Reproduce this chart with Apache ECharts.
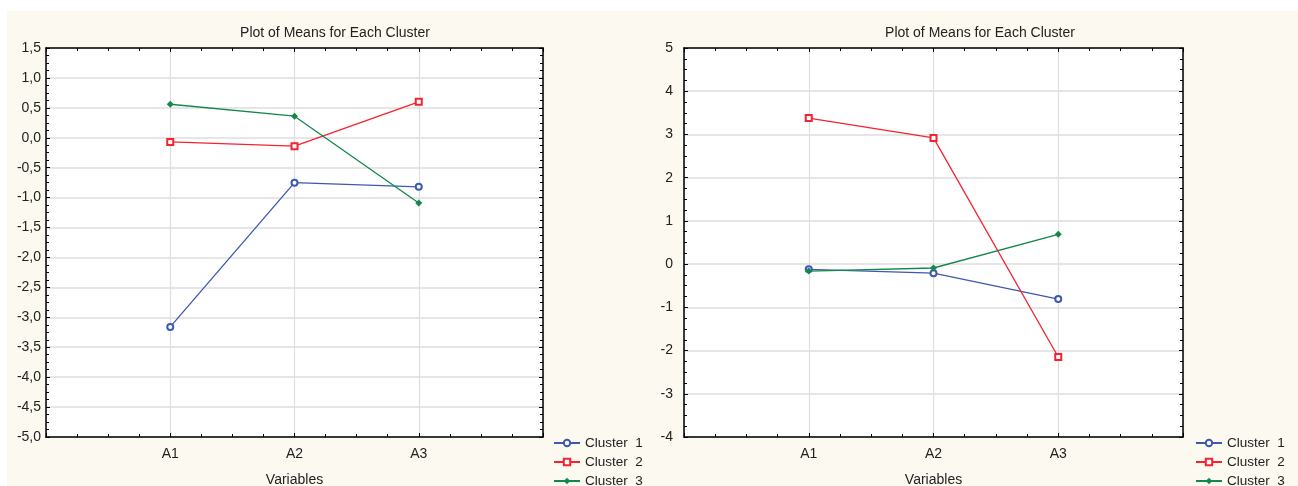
<!DOCTYPE html>
<html><head><meta charset="utf-8">
<script src="https://cdn.jsdelivr.net/npm/echarts@6/dist/echarts.min.js"></script>
<style>html,body{margin:0;padding:0;background:#fff}#c{width:1298px;height:486px}</style>
</head><body><div id="c"></div>
<script>
const categories = ['A1', 'A2', 'A3'];
const seriesNames = ['Cluster  1', 'Cluster  2', 'Cluster  3'];
const leftCluster1 = [-3.16, -0.75, -0.82];
const leftCluster2 = [-0.07, -0.14, 0.60];
const leftCluster3 = [0.56, 0.36, -1.09];
const rightCluster1 = [-0.12, -0.21, -0.81];
const rightCluster2 = [3.38, 2.92, -2.15];
const rightCluster3 = [-0.16, -0.09, 0.69];
const leftYTicks = { min: -5, max: 1.5, interval: 0.5 };
const rightYTicks = { min: -4, max: 5, interval: 1 };

const colors = ['#3d58b3', '#f5232f', '#13884a'];
const symbols = ['emptyCircle', 'emptyRect', 'diamond'];
const font = 'Liberation Sans, Arial, sans-serif';

const grids = [
  { left: 46, top: 48, width: 497, height: 389 },
  { left: 684, top: 48, width: 499, height: 389 }
];

function toPairs(arr) { return arr.map((v, i) => [i + 1, v]); }

const xAxes = [], yAxes = [], series = [], legends = [], titles = [];
[[leftYTicks, [leftCluster1, leftCluster2, leftCluster3], 1, 330, 553, 5],
 [rightYTicks, [rightCluster1, rightCluster2, rightCluster3], 0, 975, 1195, 11]].forEach((cfg, g) => {
  const [yt, data, dec, tx, lx, ym] = cfg;
  const baseX = xAxes.length, baseY = yAxes.length;
  const line = { onZero: false, lineStyle: { color: '#000', width: 1.5 } };
  const tick = { show: true, inside: true, length: 4, lineStyle: { color: '#000' } };
  xAxes.push({
    type: 'value', gridIndex: g, position: 'bottom', min: 0, max: categories.length + 1, interval: 1,
    name: 'Variables', nameLocation: 'middle', nameGap: 36,
    nameTextStyle: { fontFamily: font, fontSize: 14, color: '#222' },
    axisLine: line, axisTick: tick,
    minorTick: { show: true, splitNumber: 4, length: 3, lineStyle: { color: '#000' } },
    axisLabel: { fontFamily: font, fontSize: 14, color: '#222', margin: 10,
      formatter: v => categories[v - 1] || '' },
    splitLine: { show: true, lineStyle: { color: '#dedede', width: 1.2 } }
  });
  xAxes.push({
    type: 'value', gridIndex: g, position: 'top', min: 0, max: categories.length + 1, interval: 1,
    axisLine: line, axisTick: tick,
    minorTick: { show: true, splitNumber: 4, length: 3, lineStyle: { color: '#000' } },
    axisLabel: { show: false }, splitLine: { show: false }
  });
  yAxes.push({
    type: 'value', gridIndex: g, position: 'left', min: yt.min, max: yt.max, interval: yt.interval,
    axisLine: Object.assign({ show: true }, line), axisTick: tick,
    minorTick: { show: true, splitNumber: 4, length: 3, lineStyle: { color: '#000' } },
    axisLabel: { fontFamily: font, fontSize: 14, color: '#222', margin: ym,
      formatter: v => v.toFixed(dec).replace('.', ',') },
    splitLine: { show: true, lineStyle: { color: '#dedede', width: 1.5 } }
  });
  yAxes.push({
    type: 'value', gridIndex: g, position: 'right', min: yt.min, max: yt.max, interval: yt.interval,
    axisLine: Object.assign({ show: true }, line), axisTick: tick,
    minorTick: { show: true, splitNumber: 4, length: 3, lineStyle: { color: '#000' } },
    axisLabel: { show: false }, splitLine: { show: false }
  });
  data.forEach((arr, k) => {
    series.push({
      type: 'line', name: seriesNames[k], xAxisIndex: baseX, yAxisIndex: baseY,
      data: toPairs(arr), symbol: symbols[k], symbolSize: k === 2 ? 7 : 6,
      itemStyle: { color: colors[k], borderWidth: 1.2 },
      lineStyle: { color: colors[k], width: 1.3 }, animation: false
    });
    legends.push({
      orient: 'vertical', left: lx, top: 436 + k * 19, padding: 0,
      itemWidth: 26, itemHeight: 8, itemGap: 0,
      data: [{ name: seriesNames[k] }],
      textStyle: { fontFamily: font, fontSize: 13.5, color: '#222', padding: [0, 0, 0, 0] },
      selectedMode: false
    });
  });
  titles.push({
    text: 'Plot of Means for Each Cluster', left: tx, top: 21, textAlign: 'center',
    textStyle: { fontFamily: font, fontSize: 14, fontWeight: 'normal', color: '#222' }
  });
});

const chart = echarts.init(document.getElementById('c'), null, { renderer: 'canvas' });
chart.setOption({
  animation: false,
  backgroundColor: '#ffffff',
  graphic: [{ type: 'rect', left: 7, top: 11, shape: { width: 1291, height: 475 }, style: { fill: '#fcf9f0' }, z: -10 }],
  title: titles,
  legend: legends,
  grid: grids.map(gr => Object.assign({ show: true, backgroundColor: '#ffffff', borderWidth: 0, containLabel: false, outerBoundsMode: 'none' }, gr)),
  xAxis: xAxes,
  yAxis: yAxes,
  series: series
});
</script></body></html>
